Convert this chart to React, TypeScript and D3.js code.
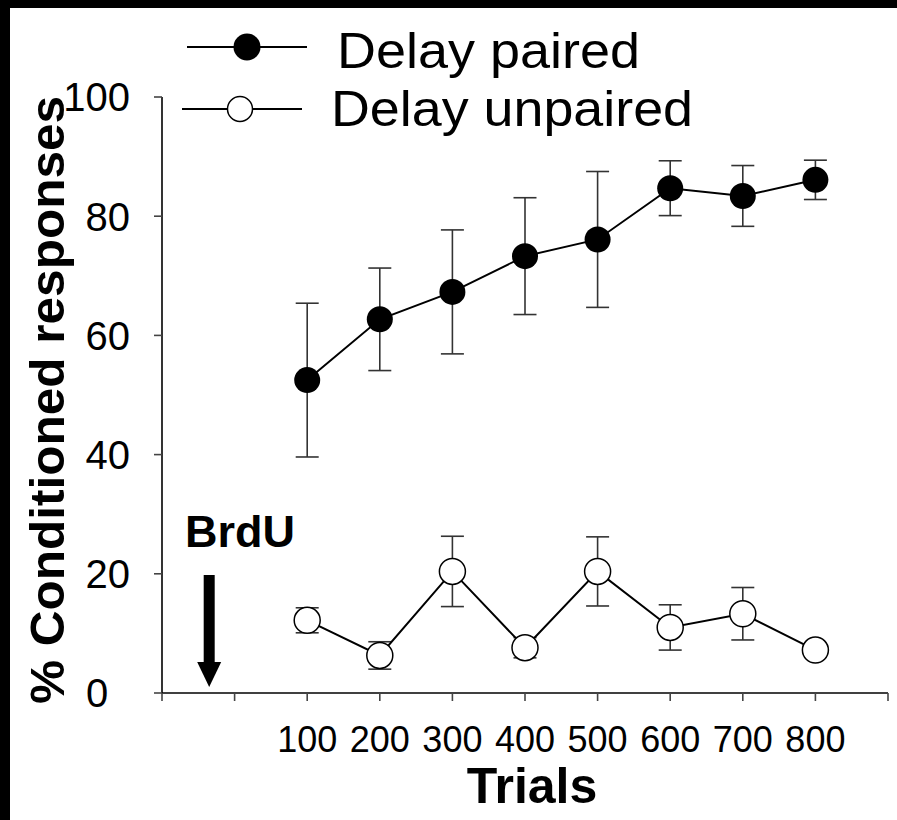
import React from "react";
import * as d3 from "d3";

const trials = [100, 200, 300, 400, 500, 600, 700, 800];
const pairedMean = [52.5, 62.7, 67.3, 73.3, 76.1, 84.7, 83.4, 86.1];
const pairedErr = [12.9, 8.6, 10.4, 9.8, 11.4, 4.6, 5.1, 3.3];
const unpairedMean = [12.2, 6.3, 20.4, 7.6, 20.4, 11.0, 13.3, 7.2];
const unpairedErr = [2.1, 2.3, 5.9, 1.7, 5.8, 3.8, 4.4, 0.5];
const yTicks = [0, 20, 40, 60, 80, 100];
const xTickValues = [-100, 0, 100, 200, 300, 400, 500, 600, 700, 800, 900];
const xLabelValues = [100, 200, 300, 400, 500, 600, 700, 800];
const seriesNames = ["Delay paired", "Delay unpaired"];
const brdUTrial = -35;

const FONT = "'Liberation Sans', Arial, sans-serif";

export default function App() {
  const W = 897, H = 820;
  const x = d3.scaleLinear().domain([-100, 900]).range([162, 888]);
  const y = d3.scaleLinear().domain([0, 100]).range([693, 97]);
  const line = d3.line<number>().x((_, i) => x(trials[i])).y((v) => y(v));
  const R = 13;
  const capW = 11.5;

  const errBars = (means: number[], errs: number[], key: string) =>
    means.map((m, i) => {
      const cx = x(trials[i]);
      const top = y(m + errs[i]);
      const bot = y(m - errs[i]);
      return (
        <g key={key + i} stroke="#333" strokeWidth={1.6}>
          <line x1={cx} x2={cx} y1={top} y2={bot} />
          <line x1={cx - capW} x2={cx + capW} y1={top} y2={top} />
          <line x1={cx - capW} x2={cx + capW} y1={bot} y2={bot} />
        </g>
      );
    });

  return (
    <svg width={W} height={H} style={{ position: "absolute", left: 0, top: 0, background: "#fff" }} fontFamily={FONT}>
      <rect x={0} y={0} width={W} height={H} fill="#fff" />
      <rect x={0} y={0} width={W} height={8} fill="#000" />
      <rect x={0} y={0} width={10} height={H} fill="#000" />

      {/* axes */}
      <line x1={x(-100)} x2={x(-100)} y1={y(100)} y2={y(0)} stroke="#000" strokeWidth={1.6} />
      <line x1={x(-100)} x2={x(900)} y1={y(0)} y2={y(0)} stroke="#000" strokeWidth={1.6} />
      {yTicks.map((t) => (
        <g key={"yt" + t}>
          <line x1={x(-100) - 8} x2={x(-100)} y1={y(t)} y2={y(t)} stroke="#444" strokeWidth={1.6} />
          <text x={t === 0 ? 86 : 130} y={y(t)} dy="0.36em" textAnchor={t === 0 ? "start" : "end"} fontSize={40}>{t}</text>
        </g>
      ))}
      {xTickValues.map((t) => (
        <line key={"xt" + t} x1={x(t)} x2={x(t)} y1={y(0)} y2={y(0) + 8} stroke="#444" strokeWidth={1.6} />
      ))}
      {xLabelValues.map((t) => (
        <text key={"xl" + t} x={x(t)} y={752} textAnchor="middle" fontSize={36}>{t}</text>
      ))}
      <text x={532} y={803} textAnchor="middle" fontSize={50} fontWeight="bold">Trials</text>
      <text transform={`translate(64,400) rotate(-90)`} textAnchor="middle" fontSize={48} fontWeight="bold"
        textLength={608} lengthAdjust="spacingAndGlyphs">% Conditioned responses</text>

      {/* BrdU */}
      <text x={185} y={547} fontSize={45} fontWeight="bold">BrdU</text>
      <rect x={x(brdUTrial) - 5.5} y={575} width={11} height={88} fill="#000" />
      <path d={`M${x(brdUTrial) - 12},662 L${x(brdUTrial) + 12},662 L${x(brdUTrial)},687 Z`} fill="#000" />

      {/* error bars */}
      {errBars(pairedMean, pairedErr, "pe")}
      {errBars(unpairedMean, unpairedErr, "ue")}

      {/* lines */}
      <path d={line(pairedMean) || ""} fill="none" stroke="#000" strokeWidth={2} />
      <path d={line(unpairedMean) || ""} fill="none" stroke="#000" strokeWidth={2} />

      {/* markers */}
      {pairedMean.map((m, i) => (
        <circle key={"pm" + i} cx={x(trials[i])} cy={y(m)} r={R} fill="#000" />
      ))}
      {unpairedMean.map((m, i) => (
        <circle key={"um" + i} cx={x(trials[i])} cy={y(m)} r={R} fill="#fff" stroke="#000" strokeWidth={1.5} />
      ))}

      {/* legend */}
      <line x1={187} x2={307} y1={47} y2={47} stroke="#000" strokeWidth={2} />
      <circle cx={247} cy={47} r={13.5} fill="#000" />
      <text x={337} y={68} fontSize={50} textLength={303} lengthAdjust="spacingAndGlyphs">{seriesNames[0]}</text>
      <line x1={182} x2={302} y1={109} y2={109} stroke="#000" strokeWidth={2} />
      <circle cx={240} cy={109} r={12.5} fill="#fff" stroke="#000" strokeWidth={1.5} />
      <text x={331} y={126} fontSize={50} textLength={362} lengthAdjust="spacingAndGlyphs">{seriesNames[1]}</text>
    </svg>
  );
}
